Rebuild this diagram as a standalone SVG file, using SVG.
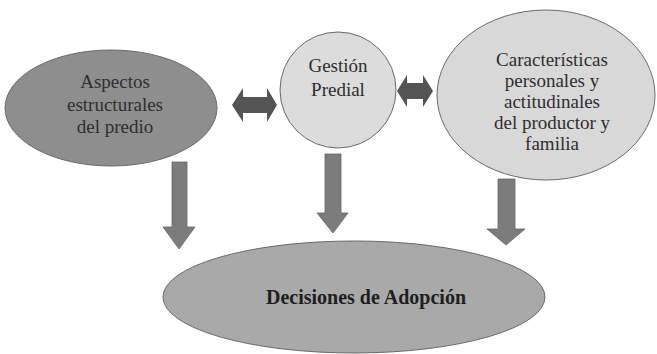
<svg xmlns="http://www.w3.org/2000/svg" width="657" height="354" viewBox="0 0 657 354">
<style>
text{font-family:"Liberation Serif","Times New Roman",serif;fill:#2e2e2e;text-anchor:middle;font-size:19px}
.b{font-weight:bold;font-size:20px;fill:#1e1e1e}
.node{stroke:#6a6a6a;stroke-width:1}
.down{fill:#7c7c7c;stroke:#666;stroke-width:0.8}
.dbl{fill:#545454}
</style>
<rect width="657" height="354" fill="#fff"/>
<g id="aspectos">
<ellipse class="node" cx="111" cy="108" rx="106" ry="58" fill="#8e8e8e"/>
<text x="115" y="88">Aspectos</text>
<text x="115" y="111">estructurales</text>
<text x="115" y="133">del predio</text>
</g>
<g id="gestion">
<circle class="node" cx="338" cy="90" r="58" fill="#dcdcdc"/>
<text x="338" y="72">Gestión</text>
<text x="338" y="96">Predial</text>
</g>
<g id="caracteristicas">
<ellipse class="node" cx="546" cy="95" rx="109" ry="85" fill="#d8d8d8"/>
<text x="552" y="66">Características</text>
<text x="552" y="87">personales y</text>
<text x="552" y="108">actitudinales</text>
<text x="552" y="129">del productor y</text>
<text x="552" y="150">familia</text>
</g>
<g id="decisiones">
<ellipse class="node" cx="354" cy="297" rx="191" ry="56" fill="#a9a9a9"/>
<text class="b" x="366" y="304">Decisiones de Adopción</text>
</g>
<g id="connectors">
<polygon class="dbl" points="232,105 243,88 243,97 267,97 267,88 277,105 267,122 267,113 243,113 243,122"/>
<polygon class="dbl" points="397,91 407,75 407,83 423,83 423,75 433,91 423,107 423,99 407,99 407,107"/>
<polygon class="down" points="172,162 187,162 187,227 195,227 179,249 163,227 172,227"/>
<polygon class="down" points="325,154 341,154 341,213 348,213 333,233 317,213 325,213"/>
<polygon class="down" points="498,179 515,179 515,229 525,229 506,245 487,229 498,229"/>
</g>
</svg>
